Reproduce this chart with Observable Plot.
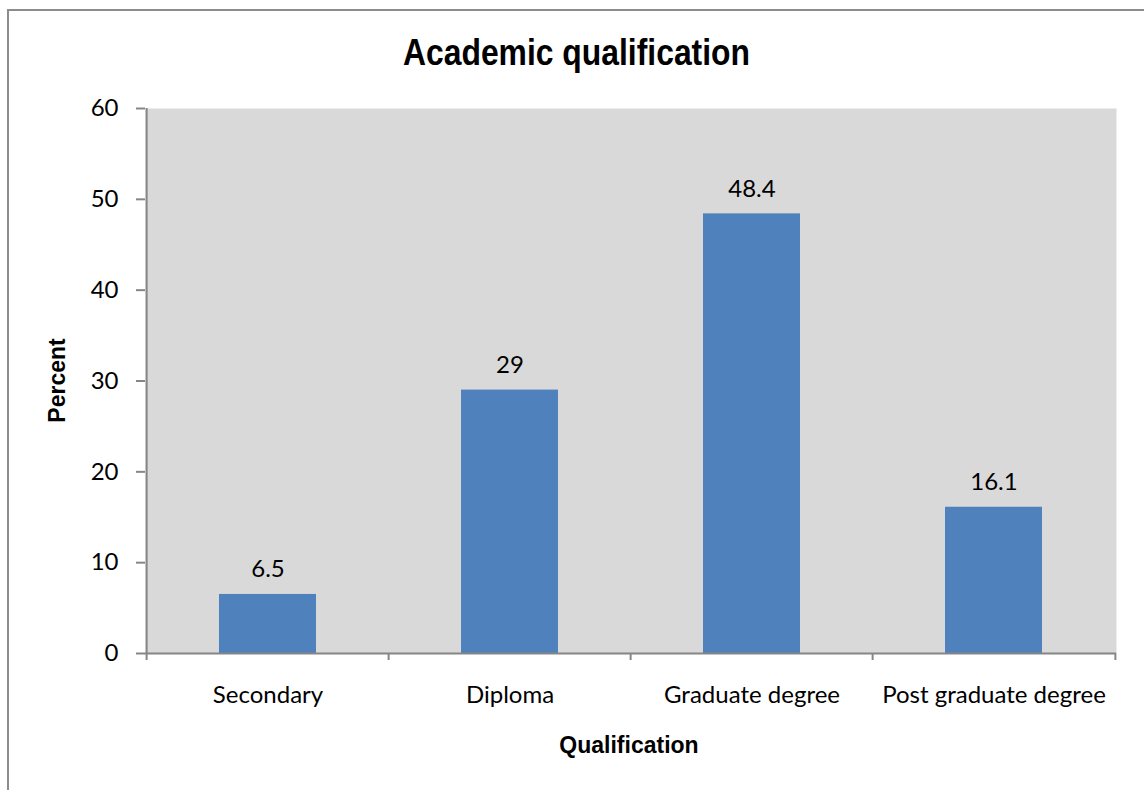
<!DOCTYPE html>
<html>
<head>
<meta charset="utf-8">
<script src="https://cdn.jsdelivr.net/npm/d3@7"></script>
<script src="https://cdn.jsdelivr.net/npm/@observablehq/plot@0.6"></script>
<style>
  html, body { margin: 0; padding: 0; background: #fff; overflow: hidden; }
  #wrap { position: relative; width: 1144px; height: 790px; overflow: hidden; }
  #border { position: absolute; left: 7px; top: 9px; width: 1300px; height: 900px;
            border-left: 2px solid #8c8c8c; border-top: 2px solid #8c8c8c; }
  #chart { position: absolute; left: 0; top: 0; }
  .lbl { position: absolute; font-family: "Liberation Sans", Arial, sans-serif; font-weight: bold;
         color: #000; text-align: center; white-space: nowrap; }
  #title { left: 0; width: 1153px; top: 34.5px; font-size: 36px; line-height: 36px;
           transform: scaleX(0.885); transform-origin: 576.5px 50%; }
  #xlabel { left: 329px; width: 600px; top: 734px; font-size: 23px; line-height: 23px; }
  #ylabel { left: -93.5px; width: 300px; top: 368.5px; font-size: 23px; line-height: 23px;
            transform: rotate(-90deg); transform-origin: 50% 50%; }
</style>
</head>
<body>
<div id="wrap">
  <div id="border"></div>
  <div id="chart"></div>
  <div id="title" class="lbl">Academic qualification</div>
  <div id="ylabel" class="lbl">Percent</div>
  <div id="xlabel" class="lbl">Qualification</div>
</div>
<script>
const categories = ["Secondary", "Diploma", "Graduate degree", "Post graduate degree"];
const percents = [6.5, 29, 48.4, 16.1];
const yTicks = [0, 10, 20, 30, 40, 50, 60];

const data = categories.map((c, i) => ({cat: c, pct: percents[i]}));

const W = 1144, H = 790;
const mL = 145, mR = 28, mT = 108, mB = 137;
const step = (W - mL - mR) / categories.length;
const axisGray = "#868686";

const chart = Plot.plot({
  width: W,
  height: H,
  marginLeft: mL,
  marginRight: mR,
  marginTop: mT,
  marginBottom: mB,
  style: {fontFamily: "Lato, sans-serif", fontSize: "24px", color: "#000", background: "transparent", overflow: "visible"},
  x: {type: "band", domain: categories, paddingInner: 0.6, paddingOuter: 0.3, label: null},
  y: {domain: [0, 60], label: null},
  marks: [
    Plot.frame({fill: "#d9d9d9", stroke: "none"}),
    Plot.barY(data, {x: "cat", y: "pct", fill: "#4f81bd"}),
    Plot.text(data, {x: "cat", y: "pct", text: d => String(d.pct), dy: -25, fontSize: 24, fill: "#000"}),
    Plot.ruleY([0], {stroke: axisGray, strokeWidth: 2}),
    Plot.ruleX([categories[0]], {dx: -step / 2, stroke: axisGray, strokeWidth: 2}),
    Plot.axisY({ticks: yTicks, tickSize: 9, tickPadding: 18, stroke: axisGray, strokeWidth: 2, fill: "#000", fontSize: 24, label: null}),
    Plot.axisX({tickSize: 0, tickPadding: 32, fill: "#000", fontSize: 24, label: null}),
    Plot.axisX({ticks: categories, tickSize: 7, tickFormat: () => "", dx: -step / 2, stroke: axisGray, strokeWidth: 2, label: null}),
    Plot.axisX({ticks: [categories[categories.length - 1]], tickSize: 7, tickFormat: () => "", dx: step / 2, stroke: axisGray, strokeWidth: 2, label: null})
  ]
});
document.getElementById("chart").appendChild(chart);
</script>
</body>
</html>
